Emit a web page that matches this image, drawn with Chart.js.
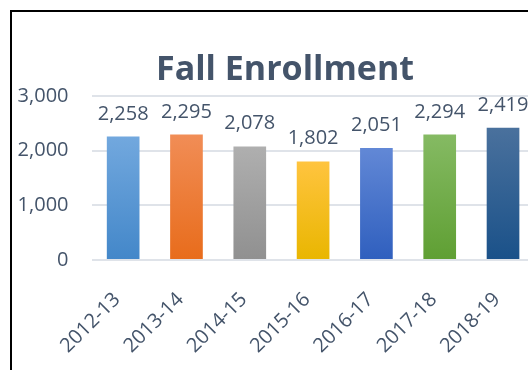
<!DOCTYPE html>
<html>
<head>
<meta charset="utf-8">
<script src="https://cdn.jsdelivr.net/npm/chart.js@4/dist/chart.umd.min.js"></script>
<style>
    html, body { margin: 0; padding: 0; background: #fff; overflow: hidden; }
    #frame {
        position: absolute; left: 10px; top: 10px;
        width: 600px; height: 400px;
        border-top: 2px solid #000; border-left: 2px solid #000;
    }
    #wrap { position: absolute; left: 12px; top: 12px; width: 528px; height: 358px; }
</style>
</head>
<body>
<div id="frame"></div>
<div id="wrap"><canvas id="enrollChart"></canvas></div>
<script>
// Kayıt verileri
const years = ['2012-13', '2013-14', '2014-15', '2015-16', '2016-17', '2017-18', '2018-19'];
const enrollment = [2258, 2295, 2078, 1802, 2051, 2294, 2419];
const yTicks = [0, 1000, 2000, 3000];

// Her çubuk için üst (açık) ve alt (koyu) renkler
const topColors = ['#72A8DE', '#F18D56', '#AFAFAF', '#FFC43F', '#6288D6', '#85BA63', '#4A719D'];
const bottomColors = ['#4387C9', '#E86C1B', '#909090', '#E9B600', '#2F5FBE', '#5F9F33', '#1A5189'];

const textColor = '#44546A';
const baseFont = '"Open Sans", sans-serif';

// Çubuk başına dikey gradyan
function barGradient(context) {
    const chart = context.chart;
    const i = context.dataIndex;
    if (!chart.chartArea || !chart.scales.y) return topColors[i];
    const y = chart.scales.y;
    const top = y.getPixelForValue(enrollment[i]);
    const bottom = y.getPixelForValue(0);
    const g = chart.ctx.createLinearGradient(0, top, 0, bottom);
    g.addColorStop(0, topColors[i]);
    g.addColorStop(1, bottomColors[i]);
    return g;
}

// Başlık
const titlePlugin = {
    id: 'fallTitle',
    afterDraw(chart) {
        const ctx = chart.ctx;
        ctx.save();
        ctx.font = 'bold 34px ' + baseFont;
        ctx.fillStyle = textColor;
        ctx.textAlign = 'center';
        ctx.textBaseline = 'alphabetic';
        ctx.fillText('Fall Enrollment', 273, 68);
        ctx.restore();
    }
};

// Çubukların üstündeki değer etiketleri
const valueLabels = {
    id: 'valueLabels',
    afterDatasetsDraw(chart) {
        const ctx = chart.ctx;
        const meta = chart.getDatasetMeta(0);
        ctx.save();
        ctx.font = '20px ' + baseFont;
        ctx.fillStyle = textColor;
        ctx.textAlign = 'center';
        ctx.textBaseline = 'alphabetic';
        meta.data.forEach(function(bar, i) {
            ctx.fillText(enrollment[i].toLocaleString('en-US'), bar.x, bar.y - 17);
        });
        ctx.restore();
    }
};

new Chart(document.getElementById('enrollChart'), {
    type: 'bar',
    data: {
        labels: years,
        datasets: [{
            data: enrollment,
            backgroundColor: barGradient,
            borderWidth: 0,
            barPercentage: 0.516,
            categoryPercentage: 1
        }]
    },
    options: {
        responsive: true,
        maintainAspectRatio: false,
        animation: false,
        layout: {
            padding: { top: 84, right: 0, bottom: 0, left: 0 }
        },
        plugins: {
            legend: { display: false },
            title: { display: false },
            tooltip: { enabled: false }
        },
        scales: {
            y: {
                min: 0,
                max: 3000,
                afterBuildTicks: function(scale) {
                    scale.ticks = yTicks.map(v => ({ value: v }));
                },
                afterFit: function(scale) {
                    scale.width = 79.5;
                },
                border: { display: false },
                grid: {
                    color: '#DFE3E9',
                    lineWidth: 2,
                    drawTicks: false
                },
                ticks: {
                    padding: 23,
                    color: textColor,
                    font: { family: baseFont, size: 20 },
                    callback: function(value) {
                        return value.toLocaleString('en-US');
                    }
                }
            },
            x: {
                afterFit: function(scale) {
                    scale.height = 110;
                },
                border: { display: false },
                grid: { display: false },
                ticks: {
                    minRotation: 45,
                    maxRotation: 45,
                    padding: 20,
                    labelOffset: -6,
                    color: textColor,
                    font: { family: baseFont, size: 20 }
                }
            }
        }
    },
    plugins: [titlePlugin, valueLabels]
});
</script>
</body>
</html>
